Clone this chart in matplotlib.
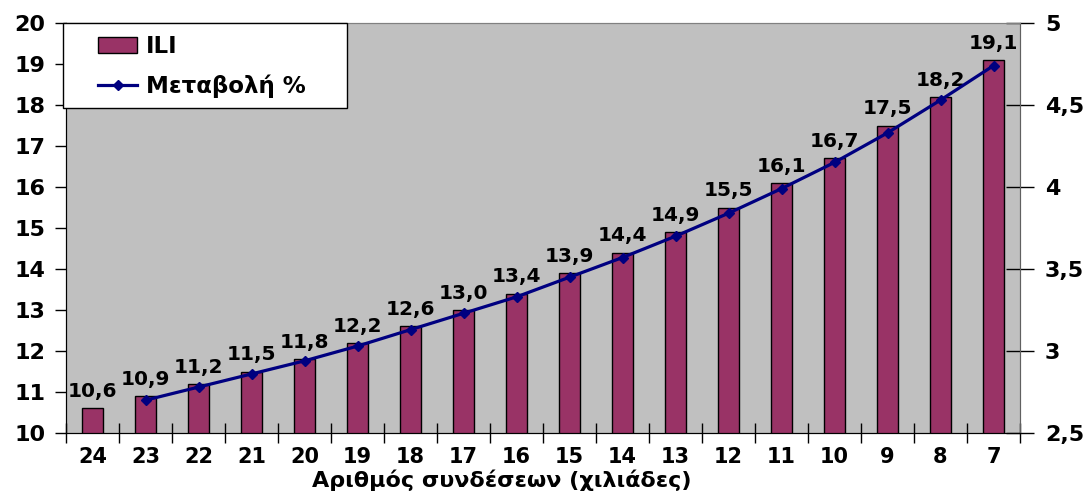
import numpy as np
import matplotlib.pyplot as plt
from matplotlib.lines import Line2D
from matplotlib.patches import Patch, Rectangle

plt.rcParams['font.family'] = ['DejaVu Sans']
plt.rcParams['font.weight'] = 'bold'

# data
categories = ['24', '23', '22', '21', '20', '19', '18', '17', '16',
              '15', '14', '13', '12', '11', '10', '9', '8', '7']
ili = [10.6, 10.9, 11.2, 11.5, 11.8, 12.2, 12.6, 13.0, 13.4,
       13.9, 14.4, 14.9, 15.5, 16.1, 16.7, 17.5, 18.2, 19.1]
# Μεταβολή % starts at category 23
change_cats = categories[1:]
change_pct = [2.70, 2.78, 2.86, 2.94, 3.03, 3.13, 3.23, 3.33, 3.45,
              3.57, 3.70, 3.84, 3.99, 4.15, 4.33, 4.53, 4.74]
left_ticks = [10, 11, 12, 13, 14, 15, 16, 17, 18, 19, 20]
right_ticks = [2.5, 3, 3.5, 4, 4.5, 5]

bar_col = '#993366'
line_col = '#000080'

fig = plt.figure(figsize=(10.92, 4.97), dpi=100)
ax = fig.add_axes([66 / 1092, 1 - 433 / 497, 954 / 1092, 410 / 497])
ax.set_facecolor('#c0c0c0')

x = np.arange(len(categories))
ax.bar(x, ili, width=0.41, bottom=0, color=bar_col, edgecolor='black', linewidth=1, zorder=2)
ax.set_xlim(-0.5, len(categories) - 0.5)
ax.set_ylim(10, 20)
ax.set_yticks(left_ticks)
ax.set_yticklabels([str(t) for t in left_ticks], fontsize=16)
ax.tick_params(axis='y', direction='out', length=8, width=1, pad=7)

ax.set_xticks(x)
ax.set_xticklabels(categories, fontsize=15)
ax.tick_params(axis='x', length=0, pad=10)
ax.set_xticks(np.arange(-0.5, len(categories)), minor=True)
ax.tick_params(axis='x', which='minor', direction='inout', length=14, width=1)

for sp in ['top', 'right']:
    ax.spines[sp].set_color('#808080')
ax.spines['left'].set_color('black')
ax.spines['bottom'].set_color('black')

for i, v in enumerate(ili):
    ax.annotate(f'{v:.1f}'.replace('.', ','), (i, v), xytext=(0, 8),
                textcoords='offset points', ha='center', va='baseline',
                fontsize=14.5, fontweight='bold', zorder=3)

ax.set_xlabel('Αριθμός συνδέσεων (χιλιάδες)', fontsize=16, fontweight='bold')
ax.xaxis.set_label_coords(0.457, -0.09)

ax2 = ax.twinx()
ax2.plot([categories.index(c) for c in change_cats], change_pct, color=line_col,
         linewidth=2.3, marker='D', markersize=5, zorder=4)
ax2.set_ylim(2.5, 5)
ax2.set_yticks(right_ticks)
ax2.set_yticklabels([f'{t:g}'.replace('.', ',') for t in right_ticks], fontsize=16)
ax2.tick_params(axis='y', direction='inout', length=20, width=1, pad=8)
ax2.spines['right'].set_color('#606060')
ax2.spines['top'].set_color('#808080')

# legend box
ax2.add_patch(Rectangle((-0.003, 0.792), 0.298, 0.208, transform=ax.transAxes,
                        facecolor='white', edgecolor='black', linewidth=1,
                        zorder=5, clip_on=False))
handles = [Patch(facecolor=bar_col, edgecolor='black', linewidth=1),
           Line2D([0], [0], color=line_col, linewidth=2.3, marker='D', markersize=5)]
leg = ax2.legend(handles, ['ILI', 'Μεταβολή %'], loc='upper left',
                 bbox_to_anchor=(0.012, 1.022), frameon=False, fontsize=16.5,
                 handlelength=1.7, handletextpad=0.4, labelspacing=0.75)
leg.set_zorder(6)

fig.savefig('out.png', dpi=100)
